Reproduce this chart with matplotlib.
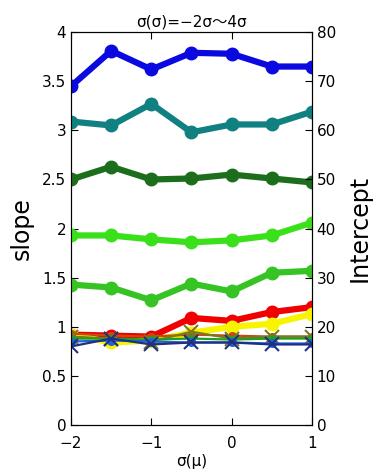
import matplotlib
matplotlib.use("Agg")
import matplotlib.pyplot as plt

plt.rcParams['font.family'] = ['DejaVu Sans', 'Noto Sans CJK JP']

x = [-2, -1.5, -1, -0.5, 0, 0.5, 1]

# slope series (left axis, thick lines)
slope_blue = [3.45, 3.81, 3.62, 3.79, 3.78, 3.65, 3.65]
slope_teal = [3.09, 3.05, 3.27, 2.98, 3.06, 3.06, 3.19]
slope_dkgreen = [2.50, 2.63, 2.50, 2.51, 2.55, 2.51, 2.47]
slope_lime = [1.93, 1.93, 1.89, 1.86, 1.88, 1.93, 2.06]
slope_green = [1.43, 1.40, 1.27, 1.44, 1.36, 1.55, 1.57]
slope_red = [0.92, 0.91, 0.90, 1.09, 1.06, 1.15, 1.20]
slope_yellow = [0.92, 0.84, 0.86, 0.94, 1.00, 1.03, 1.13]

# intercept series (right axis, thin lines)
icpt_orange = [18.6, 18.2, 18.0, 18.4, 18.2, 18.0, 18.0]
icpt_olive = [18.0, 17.6, 17.0, 19.0, 17.6, 18.0, 18.0]
icpt_green = [17.6, 17.6, 17.4, 17.6, 17.4, 17.6, 17.6]
icpt_blue = [17.0, 17.2, 17.0, 16.8, 16.8, 16.6, 16.6]
icpt_navy = [16.0, 17.6, 16.4, 16.8, 16.8, 16.4, 16.4]

fig = plt.figure(figsize=(3.78, 4.73), dpi=100)
ax = fig.add_axes([0.188, 0.1015, 0.637, 0.8305])
ax2 = ax.twinx()

thick = [(slope_blue, '#0a0ae0'), (slope_teal, '#108080'), (slope_dkgreen, '#1c6e1c'),
         (slope_lime, '#3ae01a'), (slope_green, '#36c424'), (slope_red, '#f00000'),
         (slope_yellow, '#f8f400')]
for ys, c in thick:
    ax.plot(x, ys, color=c, lw=4.5, marker='o', ms=9, zorder=3)

thin = [(icpt_orange, '#c84810', 'o'), (icpt_olive, '#7a7a20', 'x'), (icpt_green, '#20a020', 'o'),
        (icpt_blue, '#2060e0', 'o'), (icpt_navy, '#203080', 'x')]
for ys, c, m in thin:
    ax2.plot(x, ys, color=c, lw=1.6, marker=m, ms=10 if m == 'x' else 5, mew=1.5)

ax.set_xlim(-2, 1)
ax.set_ylim(0, 4)
ax2.set_ylim(0, 80)
ax.set_xticks([-2, -1, 0, 1])
ax.set_xticklabels(['−2', '−1', '0', '1'])
ax.set_yticks([0, 0.5, 1, 1.5, 2, 2.5, 3, 3.5, 4])
ax.set_yticklabels(['0', '0.5', '1', '1.5', '2', '2.5', '3', '3.5', '4'])
ax2.set_yticks([0, 10, 20, 30, 40, 50, 60, 70, 80])
ax.tick_params(direction='in', length=5, labelsize=11, top=True)
ax.tick_params(axis='x', pad=8)
ax2.tick_params(direction='in', length=5, labelsize=11)

ax.set_ylabel('slope', fontsize=17, labelpad=6)
ax2.set_ylabel('Intercept', fontsize=17, labelpad=8)
ax.set_xlabel('σ(μ)', fontsize=11, labelpad=2)
ax.set_title('σ(σ)=−2σ～4σ', fontsize=11, pad=4)

fig.savefig('out.png', dpi=100)
